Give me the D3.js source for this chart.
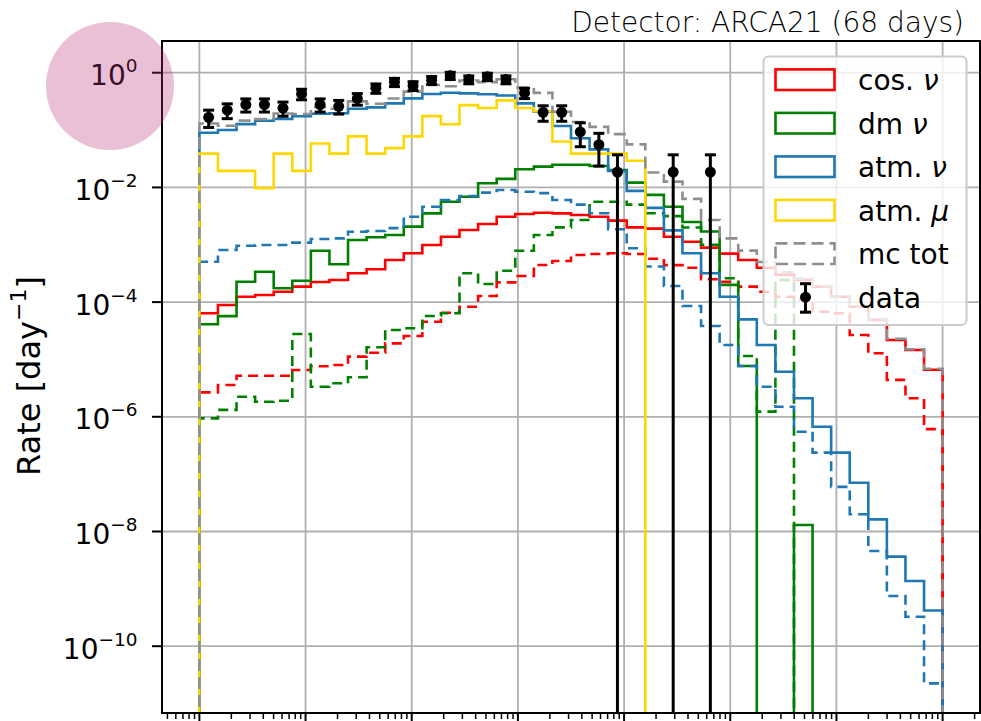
<!DOCTYPE html>
<html>
<head>
<meta charset="utf-8">
<script src="https://cdn.jsdelivr.net/npm/d3@7"></script>
<style>
  body { margin: 0; background: #ffffff; }
  svg { display: block; }
  text { font-family: "DejaVu Sans", sans-serif; fill: #000; }
</style>
</head>
<body>
<svg id="chart" width="981" height="721"></svg>
<script>
// Energy bin edges (GeV), 40 log-spaced bins from 1e2 to 1e9
const binEdges = [
  1.000e2, 1.496e2, 2.239e2, 3.350e2, 5.012e2, 7.499e2, 1.122e3, 1.679e3, 2.512e3, 3.758e3,
  5.623e3, 8.414e3, 1.259e4, 1.884e4, 2.818e4, 4.217e4, 6.310e4, 9.441e4, 1.413e5, 2.113e5,
  3.162e5, 4.732e5, 7.079e5, 1.059e6, 1.585e6, 2.371e6, 3.548e6, 5.309e6, 7.943e6, 1.189e7,
  1.778e7, 2.661e7, 3.981e7, 5.957e7, 8.913e7, 1.334e8, 1.995e8, 2.985e8, 4.467e8, 6.683e8,
  1.000e9
];

// Rates per bin [day^-1]; solid = selection A, dashed = selection B
const cosNu = [
  6.4e-5, 8.9e-5, 1.24e-4, 1.33e-4, 1.52e-4, 1.86e-4, 2.24e-4, 2.43e-4, 3.18e-4, 3.73e-4,
  5.42e-4, 7.10e-4, 9.89e-4, 1.38e-3, 1.81e-3, 2.30e-3, 3.08e-3, 3.44e-3, 3.62e-3, 3.53e-3,
  3.30e-3, 3.08e-3, 2.63e-3, 2.01e-3, 1.91e-3, 1.38e-3, 1.13e-3, 8.9e-4, 7.0e-4, 5.42e-4,
  3.98e-4, 3.02e-4, 2.43e-4, 1.86e-4, 1.24e-4, 8.3e-5, 4.9e-5, 2.19e-5, 1.46e-5, 6.6e-6
];
const cosNuB = [
  2.67e-6, 3.58e-6, 5.21e-6, 5.21e-6, 5.21e-6, 6.55e-6, 7.6e-6, 8.0e-6, 1.12e-5, 1.31e-5,
  1.91e-5, 2.56e-5, 4.55e-5, 6.53e-5, 8.32e-5, 1.28e-4, 2.21e-4, 2.85e-4, 4.44e-4, 5.21e-4,
  6.62e-4, 6.90e-4, 7.10e-4, 6.92e-4, 5.69e-4, 4.41e-4, 3.98e-4, 2.51e-4, 2.27e-4, 1.86e-4,
  1.52e-4, 1.24e-4, 1.09e-4, 6.8e-5, 6.4e-5, 2.67e-5, 1.28e-5, 4.4e-6, 2.1e-6, 6.1e-7
];
const dmNu = [
  4.1e-5, 5.7e-5, 2.27e-4, 3.39e-4, 1.74e-4, 2.36e-4, 7.87e-4, 4.56e-4, 1.21e-3, 1.35e-3,
  1.48e-3, 2.07e-3, 3.53e-3, 5.62e-3, 6.89e-3, 1.18e-2, 1.41e-2, 2.07e-2, 2.30e-2, 2.48e-2,
  2.48e-2, 2.36e-2, 2.01e-2, 1.21e-2, 7.4e-3, 4.6e-3, 2.5e-3, 1.7e-3, 2.0e-4, 7.7e-6,
  0, 0, 1.3e-8, 0, 0, 0, 0, 0, 0, 0
];
const dmNuB = [
  9.4e-7, 1.32e-6, 2.24e-6, 1.83e-6, 1.91e-6, 2.78e-5, 3.35e-6, 3.84e-6, 4.89e-6, 1.63e-5,
  3.27e-5, 3.49e-5, 5.73e-5, 6.38e-5, 3.18e-4, 2.07e-4, 3.53e-4, 7.87e-4, 1.48e-3, 2.01e-3,
  2.70e-3, 5.62e-3, 5.62e-3, 5.01e-3, 3.55e-3, 3.16e-3, 2.0e-3, 1.0e-3, 2.6e-4, 1.15e-5,
  1.23e-6, 2.43e-4, 0, 0, 0, 0, 0, 0, 0, 0
];
const atmNu = [
  0.0899, 0.1002, 0.127, 0.1455, 0.156, 0.174, 0.193, 0.196, 0.2355, 0.249,
  0.292, 0.357, 0.4256, 0.448, 0.4365, 0.42, 0.40, 0.292, 0.209, 0.1178,
  0.0718, 0.0461, 0.0193, 8.7e-3, 4.4e-3, 1.78e-3, 7.1e-4, 3.18e-4, 1.24e-4, 5.0e-5,
  1.79e-5, 6.1e-6, 2.1e-6, 6.7e-7, 2.37e-7, 7.1e-8, 1.63e-8, 3.64e-9, 1.37e-9, 4.2e-10
];
const atmNuB = [
  5.06e-4, 8.09e-4, 9.62e-4, 9.89e-4, 9.89e-4, 1.09e-3, 1.26e-3, 1.29e-3, 1.69e-3, 1.74e-3,
  1.95e-3, 3.08e-3, 4.61e-3, 6.03e-3, 7.1e-3, 8.1e-3, 9.02e-3, 8.41e-3, 7.94e-3, 6.03e-3,
  5.01e-3, 3.55e-3, 1.86e-3, 8.67e-4, 4.17e-4, 1.91e-4, 8.55e-5, 3.83e-5, 1.79e-5, 7.69e-6,
  3.35e-6, 1.50e-6, 5.5e-7, 2.37e-7, 6.0e-8, 2.0e-8, 4.57e-9, 7.5e-10, 3.27e-10, 2.25e-11
];
const atmMu = [
  0.0388, 0.0194, 0.0194, 0.0097, 0.0388, 0.0194, 0.0582, 0.0388, 0.0776, 0.0388,
  0.0485, 0.0776, 0.175, 0.126, 0.272, 0.243, 0.330, 0.243, 0.213, 0.063,
  0.0388, 0.0388, 0.0388, 0.0291, 0, 0, 0, 0, 0, 0,
  0, 0, 0, 0, 0, 0, 0, 0, 0, 0
];
const mcTot = [
  0.130, 0.119, 0.146, 0.155, 0.195, 0.191, 0.251, 0.235, 0.316, 0.288,
  0.355, 0.468, 0.61, 0.582, 0.733, 0.684, 0.767, 0.55, 0.445, 0.209,
  0.138, 0.1135, 0.0851, 0.0562, 0.0182, 0.0126, 6.3e-3, 2.7e-3, 1.29e-3, 7.9e-4,
  5.0e-4, 3.31e-4, 2.57e-4, 1.91e-4, 1.26e-4, 8.5e-5, 5.0e-5, 2.29e-5, 1.51e-5, 6.9e-6
];
// Observed rate and its uncertainty per bin (null = no events)
const dataRate = [
  0.1667, 0.2222, 0.2778, 0.2778, 0.2407, 0.4259, 0.2778, 0.2593, 0.3519, 0.5370,
  0.6852, 0.5926, 0.7407, 0.8889, 0.7593, 0.8519, 0.7593, 0.4444, 0.2037, 0.2037,
  0.0926, 0.0556, 0.0185, null, null, 0.0185, null, 0.0185, null, null,
  null, null, null, null, null, null, null, null, null, null
];
const dataErr = [
  0.0556, 0.0642, 0.0717, 0.0717, 0.0668, 0.0888, 0.0717, 0.0693, 0.0807, 0.0997,
  0.1126, 0.1048, 0.1171, 0.1283, 0.1186, 0.1256, 0.1186, 0.0907, 0.0614, 0.0614,
  0.0414, 0.0321, 0.0185, null, null, 0.0185, null, 0.0185, null, null,
  null, null, null, null, null, null, null, null, null, null
];
const yTickValues = [1e0, 1e-2, 1e-4, 1e-6, 1e-8, 1e-10];
const yTickExponents = ["0", "\u22122", "\u22124", "\u22126", "\u22128", "\u221210"];
const xMajorTicks = [1e2, 1e3, 1e4, 1e5, 1e6, 1e7, 1e8, 1e9];

const legendItems = [
  { label: "cos. ", sym: "\u03bd", color: "#ff0000", dash: null },
  { label: "dm ", sym: "\u03bd", color: "#008000", dash: null },
  { label: "atm. ", sym: "\u03bd", color: "#1f77b4", dash: null },
  { label: "atm. ", sym: "\u03bc", color: "#ffd700", dash: null },
  { label: "mc tot", sym: "", color: "#8f8f8f", dash: "12,6" },
  { label: "data", sym: "", color: "#000", dash: null, errorbar: true }
];

const svg = d3.select("#chart");
const plot = { left: 162, right: 980, top: 41, bottom: 713 };

const x = d3.scaleLog().domain([10 ** 1.648, 10 ** 9.352]).range([plot.left, plot.right]);
const y = d3.scaleLog().domain([10 ** -11.165, 10 ** 0.553]).range([plot.bottom, plot.top]);

svg.append("defs").append("clipPath").attr("id", "plotClip")
  .append("rect")
  .attr("x", plot.left).attr("y", plot.top)
  .attr("width", plot.right - plot.left).attr("height", plot.bottom - plot.top);

// Grid
const grid = svg.append("g").attr("stroke", "#b0b0b0").attr("stroke-width", 1.8);
xMajorTicks.forEach(v => {
  grid.append("line").attr("x1", x(v)).attr("x2", x(v))
    .attr("y1", plot.top).attr("y2", plot.bottom);
});
yTickValues.forEach(v => {
  grid.append("line").attr("x1", plot.left).attr("x2", plot.right)
    .attr("y1", y(v)).attr("y2", y(v));
});

// Histogram step outline; empty bins drop below the axis
const below = plot.bottom + 30;
function stepPath(vals) {
  const yv = v => (v > 0 ? y(v) : below);
  const pts = [[x(binEdges[0]), below]];
  vals.forEach((v, i) => {
    pts.push([x(binEdges[i]), yv(v)]);
    pts.push([x(binEdges[i + 1]), yv(v)]);
  });
  pts.push([x(binEdges[binEdges.length - 1]), below]);
  return d3.line()(pts);
}

const lines = svg.append("g").attr("clip-path", "url(#plotClip)");
const seriesList = [
  { vals: cosNu, color: "#ff0000", dash: null },
  { vals: cosNuB, color: "#ff0000", dash: "10,6" },
  { vals: dmNu, color: "#008000", dash: null },
  { vals: dmNuB, color: "#008000", dash: "10,6" },
  { vals: atmNu, color: "#1f77b4", dash: null },
  { vals: atmNuB, color: "#1f77b4", dash: "10,6" },
  { vals: atmMu, color: "#ffd700", dash: null },
  { vals: mcTot, color: "#8f8f8f", dash: "12,6" }
];
seriesList.forEach(s => {
  lines.append("path")
    .attr("d", stepPath(s.vals))
    .attr("fill", "none")
    .attr("stroke", s.color)
    .attr("stroke-width", 2.6)
    .attr("stroke-dasharray", s.dash)
    .attr("stroke-linejoin", "miter");
});

// Data points with error bars
const dataG = lines.append("g");
dataRate.forEach((r, i) => {
  if (r === null) return;
  const cx = x(Math.sqrt(binEdges[i] * binEdges[i + 1]));
  const lo = r - dataErr[i];
  const yLo = lo > 0 ? y(lo) : below;
  const yHi = y(r + dataErr[i]);
  dataG.append("line").attr("x1", cx).attr("x2", cx).attr("y1", yHi).attr("y2", yLo)
    .attr("stroke", "#000").attr("stroke-width", 3);
  dataG.append("line").attr("x1", cx - 5.5).attr("x2", cx + 5.5).attr("y1", yHi).attr("y2", yHi)
    .attr("stroke", "#000").attr("stroke-width", 3);
  if (lo > 0) {
    dataG.append("line").attr("x1", cx - 5.5).attr("x2", cx + 5.5).attr("y1", yLo).attr("y2", yLo)
      .attr("stroke", "#000").attr("stroke-width", 3);
  }
  dataG.append("circle").attr("cx", cx).attr("cy", y(r)).attr("r", 5.5).attr("fill", "#000");
});

// Axes
const xMinor = [];
for (let e = 1; e <= 9; e++) {
  for (let m = 2; m <= 9; m++) {
    const v = m * 10 ** e;
    if (v > x.domain()[0] && v < x.domain()[1]) xMinor.push(v);
  }
}
const axG = svg.append("g").attr("stroke", "#000");
xMajorTicks.forEach(v => {
  axG.append("line").attr("x1", x(v)).attr("x2", x(v)).attr("y1", plot.bottom).attr("y2", plot.bottom + 10)
    .attr("stroke-width", 2);
});
xMinor.forEach(v => {
  axG.append("line").attr("x1", x(v)).attr("x2", x(v)).attr("y1", plot.bottom).attr("y2", plot.bottom + 6)
    .attr("stroke-width", 1.5);
});
yTickValues.forEach(v => {
  axG.append("line").attr("x1", plot.left - 10).attr("x2", plot.left).attr("y1", y(v)).attr("y2", y(v))
    .attr("stroke-width", 2);
});
svg.append("rect")
  .attr("x", plot.left).attr("y", plot.top)
  .attr("width", plot.right - plot.left).attr("height", plot.bottom - plot.top)
  .attr("fill", "none").attr("stroke", "#000").attr("stroke-width", 2);

// Y tick labels: 10^n
yTickValues.forEach((v, i) => {
  const t = svg.append("text")
    .attr("x", 137.5).attr("y", y(v) + 12.7)
    .attr("text-anchor", "end")
    .attr("font-size", 28);
  t.append("tspan").text("10");
  t.append("tspan").attr("font-size", 18.5).attr("dy", -13.3).text(yTickExponents[i]);
});

// Y axis label
const yl = svg.append("text")
  .attr("transform", "translate(40,376) rotate(-90)")
  .attr("text-anchor", "middle")
  .attr("font-size", 32);
yl.append("tspan").text("Rate [day");
yl.append("tspan").attr("font-size", 22).attr("dy", -14).text("\u22121");
yl.append("tspan").attr("dy", 14).text("]");

// Title
svg.append("text")
  .attr("x", 964).attr("y", 32)
  .attr("text-anchor", "end")
  .attr("font-size", 28)
  .style("font-weight", 200)
  .text("Detector: ARCA21 (68 days)");

// Legend
const lg = svg.append("g");
lg.append("rect")
  .attr("x", 763.5).attr("y", 56.5).attr("width", 203).attr("height", 268.5)
  .attr("rx", 5).attr("ry", 5)
  .attr("fill", "#ffffff").attr("fill-opacity", 0.8)
  .attr("stroke", "#cccccc").attr("stroke-width", 2);
legendItems.forEach((d, i) => {
  const cy = 79.7 + i * 43.5;
  if (d.errorbar) {
    const cx = 805.5;
    lg.append("line").attr("x1", cx).attr("x2", cx).attr("y1", cy - 13.5).attr("y2", cy + 15)
      .attr("stroke", "#000").attr("stroke-width", 3);
    [cy - 13.5, cy + 15].forEach(yy => lg.append("line")
      .attr("x1", cx - 5.5).attr("x2", cx + 5.5).attr("y1", yy).attr("y2", yy)
      .attr("stroke", "#000").attr("stroke-width", 3));
    lg.append("circle").attr("cx", cx).attr("cy", cy).attr("r", 5.5).attr("fill", "#000");
  } else {
    lg.append("rect")
      .attr("x", 775.5).attr("y", cy - 10.3).attr("width", 59).attr("height", 20.6)
      .attr("fill", "none").attr("stroke", d.color).attr("stroke-width", 2.6)
      .attr("stroke-dasharray", d.dash);
  }
  const t = lg.append("text").attr("x", 858).attr("y", cy + 10.3).attr("font-size", 28);
  t.append("tspan").text(d.label);
  if (d.sym) t.append("tspan").attr("font-style", "italic").text(d.sym);
});

// Highlight marker around the top tick label
svg.append("circle")
  .attr("cx", 110).attr("cy", 86).attr("r", 64)
  .attr("fill", "rgb(182,48,115)").attr("fill-opacity", 0.3);
</script>
</body>
</html>
